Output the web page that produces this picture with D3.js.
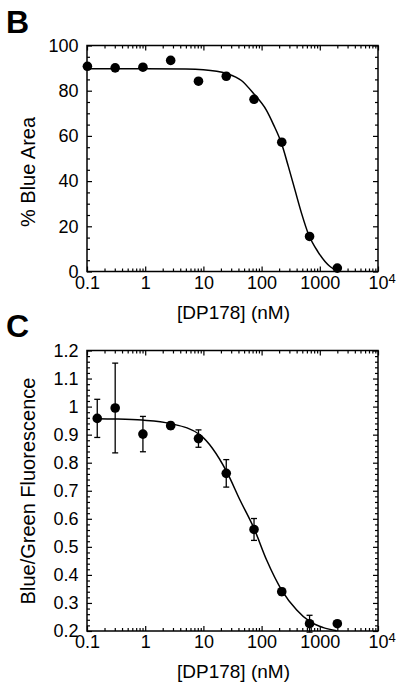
<!DOCTYPE html>
<html>
<head>
<meta charset="utf-8">
<script src="https://cdn.jsdelivr.net/npm/d3@7"></script>
<style>
  html, body { margin: 0; padding: 0; background: #fff; }
  svg { display: block; }
  text { font-family: "Liberation Sans", Arial, sans-serif; fill: #000; }
</style>
</head>
<body>
<svg id="chart" width="400" height="691"></svg>
<script>
// ---------- data ----------
const xTickValues = [0.1, 1, 10, 100, 1000, 10000];
const xTickLabels = ["0.1", "1", "10", "100", "1000", "10^4"];

// Panel B: % Blue Area
const concB = [0.1016, 0.305, 0.914, 2.74, 8.23, 24.7, 74.1, 222, 667, 2000];
const blueArea = [90.8, 90.1, 90.4, 93.4, 84.2, 86.4, 76.2, 57.2, 15.5, 1.5];
const fitBConc = [0.1, 1, 5, 10, 25, 45, 74, 120, 160, 221, 288, 375, 489, 634, 942, 1500, 1950];
const fitBVal  = [89.7, 89.7, 89.6, 89.3, 87.6, 84.5, 78.5, 71.5, 65, 56.5, 46.5, 36, 25.5, 16.7, 8.5, 2.2, 0.4];
const yTicksB = [0, 20, 40, 60, 80, 100];

// Panel C: Blue/Green Fluorescence
const concC = [0.15, 0.305, 0.914, 2.74, 8.23, 24.7, 74.1, 222, 667, 2000];
const ratioC = [0.958, 0.995, 0.902, 0.932, 0.886, 0.762, 0.562, 0.340, 0.226, 0.226];
const errC   = [0.068, 0.16, 0.063, 0.012, 0.031, 0.049, 0.039, 0.012, 0.03, 0];
const fitCConc = [0.15, 0.3, 0.88, 2.67, 8.75, 25.1, 42.5, 74, 122, 221, 401, 679, 1148, 1950];
const fitCVal  = [0.957, 0.956, 0.952, 0.940, 0.899, 0.768, 0.667, 0.566, 0.453, 0.346, 0.275, 0.233, 0.212, 0.201];
const yTicksC = [0.2, 0.3, 0.4, 0.5, 0.6, 0.7, 0.8, 0.9, 1, 1.1, 1.2];

// ---------- layout ----------
const svg = d3.select("#chart");
const FONT = "Liberation Sans, Arial, sans-serif";

const x = d3.scaleLog().domain([0.1, 10000]);

function minorLog() {
  const v = [];
  for (let e = -1; e < 4; e++) {
    for (let m = 2; m <= 9; m++) v.push(m * Math.pow(10, e));
  }
  return v;
}

function drawPanel(opts) {
  const { left, right, top, bottom, yScale, yMajor, yMinor, yFmt, letter, letterY, yTitle, titleX, titleY } = opts;
  const xs = x.copy().range([left, right]);
  const g = svg.append("g");

  // frame
  g.append("rect").attr("x", left).attr("y", top)
    .attr("width", right - left).attr("height", bottom - top)
    .attr("fill", "none").attr("stroke", "#000").attr("stroke-width", 1.5);

  const styleAxis = sel => {
    sel.select(".domain").remove();
    sel.selectAll(".tick line").attr("stroke", "#000").attr("stroke-width", 1.2);
    sel.selectAll("text").attr("font-family", FONT).attr("font-size", 18).attr("fill", "#000");
  };

  // x axes (bottom with labels, top without)
  const xb = g.append("g").attr("transform", `translate(0,${bottom})`)
    .call(d3.axisBottom(xs).tickValues(xTickValues).tickSize(-5).tickPadding(4.5)
      .tickFormat((d, i) => xTickLabels[i]));
  styleAxis(xb);
  xb.selectAll(".tick text").each(function(d, i) {
    const lab = xTickLabels[i];
    if (lab.indexOf("^") >= 0) {
      const [b, p] = lab.split("^");
      const t = d3.select(this).text(null).attr("text-anchor", "start").attr("x", -10);
      t.append("tspan").text(b);
      t.append("tspan").text(p).attr("font-size", 13).attr("dy", "-0.45em");
    }
  });
  const xbm = g.append("g").attr("transform", `translate(0,${bottom})`)
    .call(d3.axisBottom(xs).tickValues(minorLog()).tickSize(-3).tickFormat(""));
  styleAxis(xbm);
  const xt = g.append("g").attr("transform", `translate(0,${top})`)
    .call(d3.axisTop(xs).tickValues(xTickValues).tickSize(-5).tickFormat(""));
  styleAxis(xt);
  const xtm = g.append("g").attr("transform", `translate(0,${top})`)
    .call(d3.axisTop(xs).tickValues(minorLog()).tickSize(-3).tickFormat(""));
  styleAxis(xtm);

  // y axes
  const yl = g.append("g").attr("transform", `translate(${left},0)`)
    .call(d3.axisLeft(yScale).tickValues(yMajor).tickSize(-5).tickPadding(8.5).tickFormat(yFmt));
  styleAxis(yl);
  const ylm = g.append("g").attr("transform", `translate(${left},0)`)
    .call(d3.axisLeft(yScale).tickValues(yMinor).tickSize(-3).tickFormat(""));
  styleAxis(ylm);
  const yr = g.append("g").attr("transform", `translate(${right},0)`)
    .call(d3.axisRight(yScale).tickValues(yMajor).tickSize(-5).tickFormat(""));
  styleAxis(yr);
  const yrm = g.append("g").attr("transform", `translate(${right},0)`)
    .call(d3.axisRight(yScale).tickValues(yMinor).tickSize(-3).tickFormat(""));
  styleAxis(yrm);

  // titles
  g.append("text").attr("x", (left + right) / 2 + 1).attr("y", bottom + 47)
    .attr("text-anchor", "middle").attr("font-size", 19).text("[DP178] (nM)");
  g.append("text").attr("transform", `translate(${titleX},${titleY}) rotate(-90)`)
    .attr("text-anchor", "middle").attr("font-size", 20).text(yTitle);
  g.append("text").attr("x", 6).attr("y", letterY)
    .attr("font-size", 32).attr("font-weight", "bold").text(letter);

  return { g, xs };
}

// ---------- Panel B ----------
const yB = d3.scaleLinear().domain([0, 100]).range([271.5, 45.5]);
const pB = drawPanel({
  left: 87, right: 378, top: 45.5, bottom: 271.5,
  yScale: yB, yMajor: yTicksB, yMinor: d3.range(0, 101, 5).filter(v => v % 20 !== 0),
  yFmt: d => String(d), letter: "B", letterY: 33, yTitle: "% Blue Area", titleX: 35, titleY: 172
});
const lineB = d3.line().x(d => pB.xs(d[0])).y(d => yB(d[1])).curve(d3.curveMonotoneX);
pB.g.append("path").datum(d3.zip(fitBConc, fitBVal)).attr("d", lineB)
  .attr("fill", "none").attr("stroke", "#000").attr("stroke-width", 1.5);
pB.g.selectAll("circle.b").data(d3.zip(concB, blueArea)).join("circle")
  .attr("cx", d => pB.xs(d[0])).attr("cy", d => yB(d[1])).attr("r", 4.8).attr("fill", "#000");

// ---------- Panel C ----------
const yC = d3.scaleLinear().domain([0.2, 1.2]).range([631, 350.5]);
const minorC = d3.range(20, 121, 2).filter(v => v % 10 !== 0).map(v => v / 100);
const pC = drawPanel({
  left: 87, right: 378, top: 350.5, bottom: 631,
  yScale: yC, yMajor: yTicksC, yMinor: minorC,
  yFmt: d => d3.format("")(+d.toFixed(1)), letter: "C", letterY: 337, yTitle: "Blue/Green Fluorescence", titleX: 35, titleY: 491
});
const lineC = d3.line().x(d => pC.xs(d[0])).y(d => yC(d[1])).curve(d3.curveMonotoneX);
pC.g.append("path").datum(d3.zip(fitCConc, fitCVal)).attr("d", lineC)
  .attr("fill", "none").attr("stroke", "#000").attr("stroke-width", 1.5);
const errData = d3.zip(concC, ratioC, errC).filter(d => d[2] > 0);
const eb = pC.g.selectAll("g.err").data(errData).join("g").attr("class", "err");
eb.append("line").attr("x1", d => pC.xs(d[0])).attr("x2", d => pC.xs(d[0]))
  .attr("y1", d => yC(d[1] - d[2])).attr("y2", d => yC(d[1] + d[2]))
  .attr("stroke", "#000").attr("stroke-width", 1.3);
eb.append("line").attr("x1", d => pC.xs(d[0]) - 3).attr("x2", d => pC.xs(d[0]) + 3)
  .attr("y1", d => yC(d[1] + d[2])).attr("y2", d => yC(d[1] + d[2]))
  .attr("stroke", "#000").attr("stroke-width", 1.3);
eb.append("line").attr("x1", d => pC.xs(d[0]) - 3).attr("x2", d => pC.xs(d[0]) + 3)
  .attr("y1", d => yC(d[1] - d[2])).attr("y2", d => yC(d[1] - d[2]))
  .attr("stroke", "#000").attr("stroke-width", 1.3);
pC.g.selectAll("circle.c").data(d3.zip(concC, ratioC)).join("circle")
  .attr("cx", d => pC.xs(d[0])).attr("cy", d => yC(d[1])).attr("r", 4.8).attr("fill", "#000");
</script>
</body>
</html>
